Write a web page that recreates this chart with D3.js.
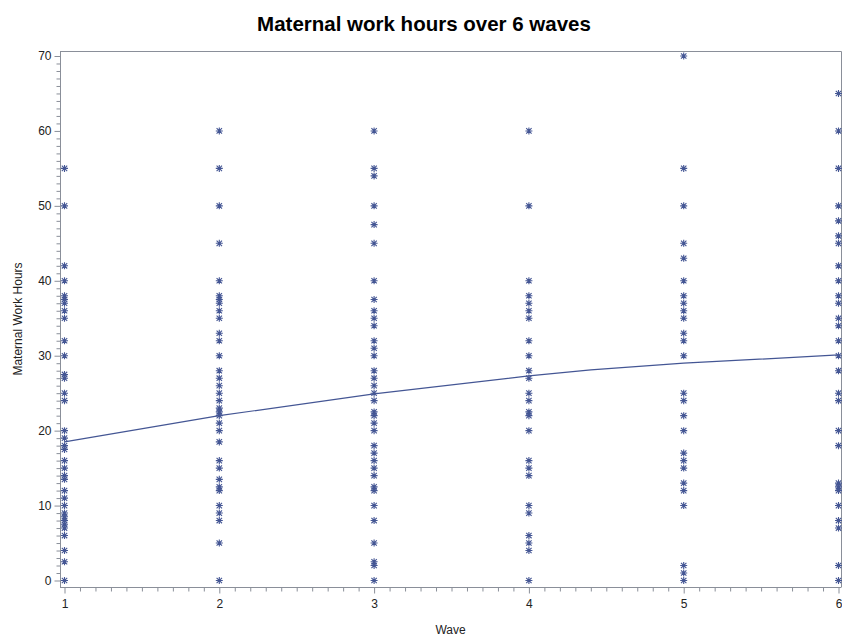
<!DOCTYPE html>
<html>
<head>
<meta charset="utf-8">
<script src="https://cdn.jsdelivr.net/npm/d3@7"></script>
<style>
  html, body { margin: 0; padding: 0; background: #fff; }
  svg { display: block; font-family: "Liberation Sans", Arial, sans-serif; }
</style>
</head>
<body>
<svg id="chart" width="842" height="638"></svg>
<script>
// Observed weekly work hours of mothers, one list per survey wave
const waves = [1, 2, 3, 4, 5, 6];
const hoursWave1 = [55, 50, 42, 40, 38, 37.5, 37, 36, 35, 32, 30, 27.5, 27, 25, 24, 20, 19, 18, 17.5, 16, 15, 14, 13.5, 12, 11, 10, 9, 8.5, 8, 7.5, 7, 6, 4, 2.5, 0];
const hoursWave2 = [60, 55, 50, 45, 40, 38, 37.5, 37, 36, 35, 33, 32, 30, 28, 27, 26, 25, 24, 23, 22.5, 22, 21, 20, 18.5, 16, 15, 13.5, 12.5, 12, 10, 9, 8, 5, 0];
const hoursWave3 = [60, 55, 54, 50, 47.5, 45, 40, 37.5, 36, 35, 34, 32, 31, 30, 28, 27, 26, 25, 24, 22.5, 22, 21, 20, 18, 17, 16, 15, 14, 12.5, 12, 10, 8, 5, 2.5, 2, 0];
const hoursWave4 = [60, 50, 40, 38, 37, 36, 35, 32, 30, 28, 27, 25, 24, 22.5, 22, 20, 16, 15, 14, 10, 9, 6, 5, 4, 0];
const hoursWave5 = [70, 55, 50, 45, 43, 40, 38, 37, 36, 35, 33, 32, 30, 25, 24, 22, 20, 17, 16, 15, 13, 12, 10, 2, 1, 0];
const hoursWave6 = [65, 60, 55, 50, 48, 46, 45, 42, 40, 38, 37, 35, 34, 32, 30, 28, 25, 24, 20, 18, 13, 12.5, 12, 10, 8, 7, 2, 0];
const hoursByWave = [hoursWave1, hoursWave2, hoursWave3, hoursWave4, hoursWave5, hoursWave6];

// Smoothed trend of work hours across waves
const fitWave = [1, 2, 3, 4, 4.4, 5, 6];
const fitHours = [18.5, 22.0, 24.9, 27.3, 28.1, 29.0, 30.1];

// Axis ticks
const xTicks = [1, 2, 3, 4, 5, 6];
const yTicks = [0, 10, 20, 30, 40, 50, 60, 70];

const title = "Maternal work hours over 6 waves";
const xLabel = "Wave";
const yLabel = "Maternal Work Hours";

const points = [];
hoursByWave.forEach((list, i) => list.forEach(h => points.push({ wave: waves[i], hours: h })));
const fit = fitWave.map((w, i) => ({ wave: w, hours: fitHours[i] }));

const svg = d3.select("#chart");
const markColor = "#445694";
const axisColor = "#8a8f99";

const frame = { left: 60, right: 841, top: 51, bottom: 587 };
const x = d3.scaleLinear().domain([1, 6]).range([64.5, 838.5]);
const y = d3.scaleLinear().domain([0, 70]).range([580.5, 56]);

// Title
svg.append("text")
  .attr("x", 424).attr("y", 31)
  .attr("text-anchor", "middle")
  .attr("font-size", 20.5).attr("font-weight", "bold")
  .attr("fill", "#000")
  .text(title);

// Plot frame (top and right edges)
svg.append("path")
  .attr("d", `M${frame.left},${frame.top + 0.5}H${frame.right + 0.5}V${frame.bottom}`)
  .attr("fill", "none").attr("stroke", axisColor).attr("stroke-width", 1);

// X axis with minor ticks every 0.1
const xAxisG = svg.append("g").attr("transform", `translate(0,${frame.bottom + 0.5})`);
xAxisG.append("line")
  .attr("x1", frame.left).attr("x2", frame.right + 0.5)
  .attr("stroke", axisColor);
const xMinor = d3.range(10, 61).map(v => v / 10).filter(v => !xTicks.includes(v));
xAxisG.append("g")
  .call(d3.axisBottom(x).tickValues(xMinor).tickSize(4).tickFormat(""))
  .call(g => g.select(".domain").remove())
  .call(g => g.selectAll("line").attr("stroke", axisColor));
xAxisG.append("g")
  .call(d3.axisBottom(x).tickValues(xTicks).tickSize(6).tickPadding(6).tickFormat(d3.format("d")))
  .call(g => g.select(".domain").remove())
  .call(g => g.selectAll("line").attr("stroke", axisColor))
  .call(g => g.selectAll("text").attr("font-size", 12).attr("fill", "#222")
    .attr("font-family", "Liberation Sans, Arial, sans-serif"));

// Y axis with minor ticks every 1 hour
const yAxisG = svg.append("g").attr("transform", `translate(${frame.left + 0.5},0)`);
yAxisG.append("line")
  .attr("y1", frame.top).attr("y2", frame.bottom + 0.5)
  .attr("stroke", axisColor);
const yMinor = d3.range(0, 71).filter(v => !yTicks.includes(v));
yAxisG.append("g")
  .call(d3.axisLeft(y).tickValues(yMinor).tickSize(4).tickFormat(""))
  .call(g => g.select(".domain").remove())
  .call(g => g.selectAll("line").attr("stroke", axisColor));
yAxisG.append("g")
  .call(d3.axisLeft(y).tickValues(yTicks).tickSize(6).tickPadding(3).tickFormat(d3.format("d")))
  .call(g => g.select(".domain").remove())
  .call(g => g.selectAll("line").attr("stroke", axisColor))
  .call(g => g.selectAll("text").attr("font-size", 12).attr("fill", "#222")
    .attr("font-family", "Liberation Sans, Arial, sans-serif"));

// Axis titles
svg.append("text")
  .attr("x", (frame.left + frame.right) / 2).attr("y", 634)
  .attr("text-anchor", "middle").attr("font-size", 12).attr("fill", "#222")
  .text(xLabel);
svg.append("text")
  .attr("transform", `translate(22,${(frame.top + frame.bottom) / 2}) rotate(-90)`)
  .attr("text-anchor", "middle").attr("font-size", 12).attr("fill", "#222")
  .text(yLabel);

// Trend line
svg.append("path")
  .datum(fit)
  .attr("d", d3.line().x(d => x(d.wave)).y(d => y(d.hours)))
  .attr("fill", "none").attr("stroke", markColor).attr("stroke-width", 1.2);

// Star markers for individual observations
const star = "M-3.5,0H3.5M0,-3.5V3.5M-2.7,-2.7L2.7,2.7M-2.7,2.7L2.7,-2.7";
svg.append("g")
  .selectAll("path")
  .data(points)
  .join("path")
  .attr("transform", d => `translate(${x(d.wave)},${y(d.hours)})`)
  .attr("d", star)
  .attr("fill", "none")
  .attr("stroke", markColor)
  .attr("stroke-width", 1.1);
</script>
</body>
</html>
